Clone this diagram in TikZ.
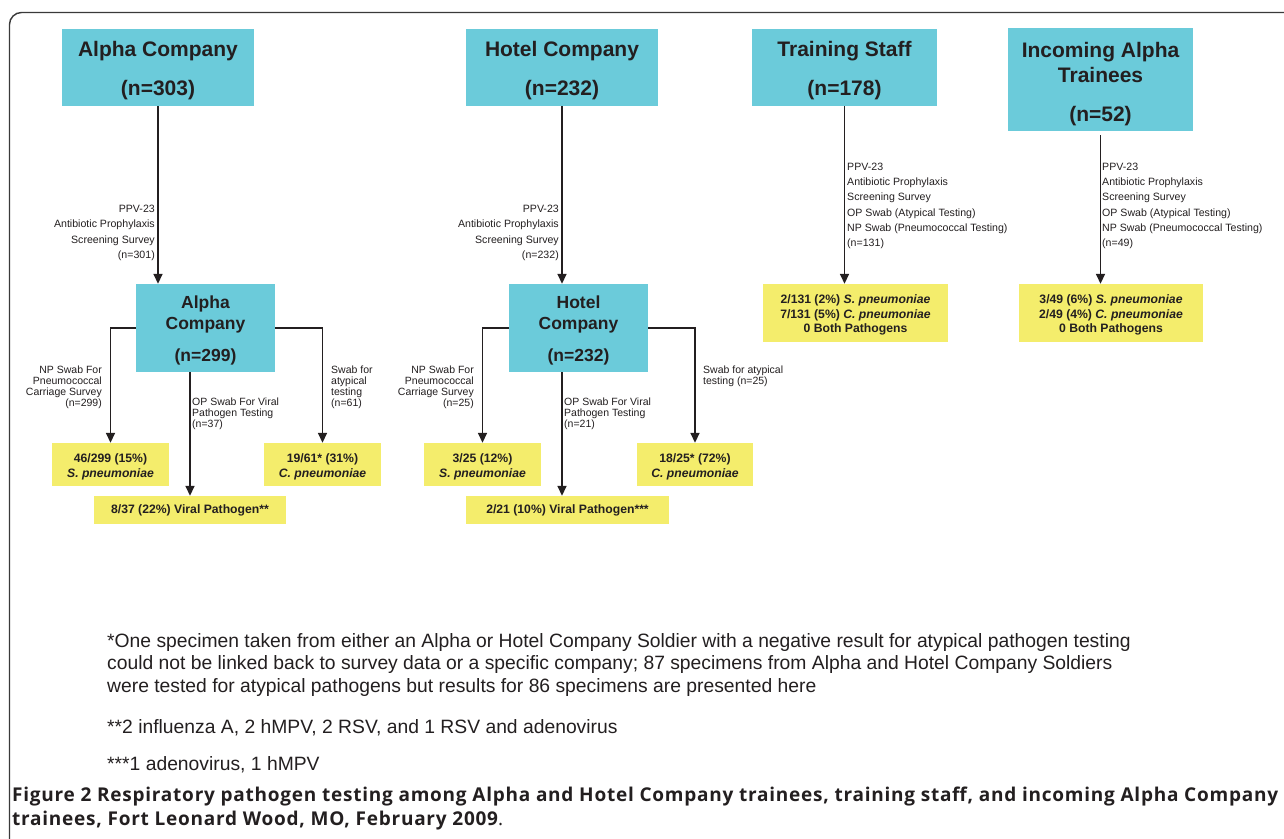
\documentclass[tikz,border=0pt]{standalone}
\usepackage{fontspec}
\setmainfont{Liberation Sans}
\newfontfamily\capfont[LetterSpace=4.0]{Open Sans}
\usetikzlibrary{arrows.meta}
\definecolor{boxcyan}{HTML}{6BCBDA}
\definecolor{boxyellow}{HTML}{F4ED6C}
\definecolor{ink}{HTML}{231F20}
\definecolor{framegray}{HTML}{3A3A3A}
\newcommand{\upstrut}[1]{\rule{0pt}{#1}}
\tikzset{
  every node/.style={text=ink, inner sep=0pt},
  topbox/.style={fill=boxcyan, align=center, font=\fontsize{21}{39}\selectfont\bfseries},
  midbox/.style={fill=boxcyan, align=center, minimum width=139pt, minimum height=88pt, font=\fontsize{17.5}{21}\selectfont\bfseries},
  resbox/.style={fill=boxyellow, align=center, font=\fontsize{12.2}{15}\selectfont\bfseries},
  lbl/.style={font=\fontsize{10.6}{15.3}\selectfont},
  slbl/.style={font=\fontsize{10.5}{11}\selectfont},
  fnote/.style={anchor=north west, align=left, font=\fontsize{19.3}{22.5}\selectfont},
  arr/.style={draw=ink, line width=1.6pt, -{Triangle[length=10pt,width=9pt]}}
}
\begin{document}
\begin{tikzpicture}[x=1pt,y=-1pt]
\useasboundingbox (0,0) rectangle (1284,838);
\fill[white] (0,0) rectangle (1284,838);
% frame
\draw[framegray, line width=1.4pt, rounded corners=12pt] (1300,12.5) -- (9.5,12.5) -- (9.5,850);

% top boxes
\node[topbox, minimum width=192pt, minimum height=77pt] (A0) at (158,67.5) {\upstrut{21.5pt}Alpha Company\\(n=303)};
\node[topbox, minimum width=192pt, minimum height=77pt] (H0) at (562,67.5) {\upstrut{21.5pt}Hotel Company\\(n=232)};
\node[topbox, minimum width=185pt, minimum height=77pt] (T0) at (844.5,67.5) {\upstrut{21.5pt}Training Staff\\(n=178)};
\node[topbox, minimum width=185pt, minimum height=103pt, font=\fontsize{21}{25}\selectfont\bfseries] (I0) at (1100.5,79.5) {\upstrut{23.5pt}Incoming Alpha\\Trainees\\[14pt](n=52)};

% second level
\node[midbox] (A1) at (205.5,328) {\upstrut{17pt}Alpha\\Company\\[11pt](n=299)};
\node[midbox] (H1) at (578.5,328) {\upstrut{17pt}Hotel\\Company\\[11pt](n=232)};

% result boxes
\node[resbox, minimum width=117pt, minimum height=43pt] (AS) at (110.5,464.5) {\upstrut{13pt}46/299 (15\%)\\\textit{S. pneumoniae}};
\node[resbox, minimum width=192pt, minimum height=28pt] (AV) at (190,510) {8/37 (22\%) Viral Pathogen**};
\node[resbox, minimum width=117pt, minimum height=43pt] (AC) at (322.5,464.5) {\upstrut{13pt}19/61* (31\%)\\\textit{C. pneumoniae}};
\node[resbox, minimum width=117pt, minimum height=43pt] (HS) at (482.5,464.5) {\upstrut{13pt}3/25 (12\%)\\\textit{S. pneumoniae}};
\node[resbox, minimum width=203pt, minimum height=28pt] (HV) at (567.5,510) {2/21 (10\%) Viral Pathogen***};
\node[resbox, minimum width=116pt, minimum height=43pt] (HC) at (695,464.5) {\upstrut{13pt}18/25* (72\%)\\\textit{C. pneumoniae}};
\node[resbox, minimum width=185pt, minimum height=58pt, font=\fontsize{12.2}{14.5}\selectfont\bfseries] (TY) at (855.5,313) {\upstrut{13pt}2/131 (2\%) \textit{S. pneumoniae}\\7/131 (5\%) \textit{C. pneumoniae}\\0 Both Pathogens};
\node[resbox, minimum width=184pt, minimum height=58pt, font=\fontsize{12.2}{14.5}\selectfont\bfseries] (IY) at (1111,313) {\upstrut{13pt}3/49 (6\%) \textit{S. pneumoniae}\\2/49 (4\%) \textit{C. pneumoniae}\\0 Both Pathogens};

% connectors
\draw[arr] (A0.south) -- (A0.south |- A1.north);
\draw[arr] (A1.west) -| (AS.north);
\draw[arr] (A1.east) -| (AC.north);
\draw[arr] (A1.south -| AV.north) -- (AV.north);
\draw[arr] (H0.south) -- (H0.south |- H1.north);
\draw[arr] (H1.west) -| (HS.north);
\draw[arr] (H1.east) -| (HC.north);
\draw[arr] (H0.south |- H1.south) -- (H0.south |- HV.north);
\draw[arr] (T0.south) -- (T0.south |- TY.north);
\draw[arr, shorten <=4pt] (I0.south) -- (I0.south |- IY.north);

% connector labels
\node[lbl, anchor=north east, align=right] (LA0) at (155,204.8) {PPV-23\\Antibiotic Prophylaxis\\Screening Survey\\(n=301)};
\node[lbl, anchor=north east, align=right] (LH0) at (559,204.8) {PPV-23\\Antibiotic Prophylaxis\\Screening Survey\\(n=232)};
\node[lbl, anchor=north west, align=left] (LT0) at (847,162.6) {PPV-23\\Antibiotic Prophylaxis\\Screening Survey\\OP Swab (Atypical Testing)\\NP Swab (Pneumococcal Testing)\\(n=131)};
\node[lbl, anchor=north west, align=left] (LI0) at (1102,162.6) {PPV-23\\Antibiotic Prophylaxis\\Screening Survey\\OP Swab (Atypical Testing)\\NP Swab (Pneumococcal Testing)\\(n=49)};

\node[slbl, anchor=north east, align=right] (LAS) at (102,365.8) {NP Swab For\\Pneumococcal\\Carriage Survey\\(n=299)};
\node[slbl, anchor=north west, align=left] (LAV) at (192,397.8) {OP Swab For Viral\\Pathogen Testing\\(n=37)};
\node[slbl, anchor=north west, align=left] (LAC) at (331,365.8) {Swab for\\atypical\\testing\\(n=61)};
\node[slbl, anchor=north east, align=right] (LHS) at (474,365.8) {NP Swab For\\Pneumococcal\\Carriage Survey\\(n=25)};
\node[slbl, anchor=north west, align=left] (LHV) at (564,397.8) {OP Swab For Viral\\Pathogen Testing\\(n=21)};
\node[slbl, anchor=north west, align=left] (LHC) at (703,365.8) {Swab for atypical\\testing (n=25)};

% footnotes
\node[fnote] (F1) at (107,633) {*One specimen taken from either an Alpha or Hotel Company Soldier with a negative result for atypical pathogen testing\\could not be linked back to survey data or a specific company; 87 specimens from Alpha and Hotel Company Soldiers\\were tested for atypical pathogens but results for 86 specimens are presented here};
\node[fnote] (F2) at (107,719) {**2 influenza A, 2 hMPV, 2 RSV, and 1 RSV and adenovirus};
\node[fnote] (F3) at (107,756) {***1 adenovirus, 1 hMPV};

% caption
\node[anchor=north west, align=left, font=\capfont\fontsize{19}{24}\selectfont\bfseries] (CAP) at (12,786.5) {Figure 2 Respiratory pathogen testing among Alpha and Hotel Company trainees, training staff, and incoming Alpha Company\\trainees, Fort Leonard Wood, MO, February 2009{\mdseries .}};
\end{tikzpicture}
\end{document}
